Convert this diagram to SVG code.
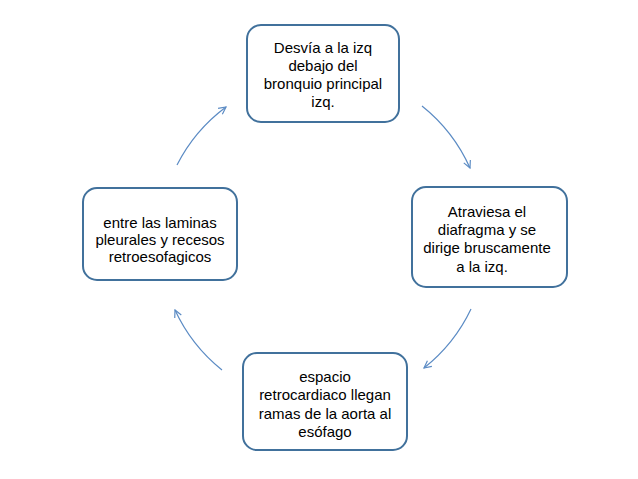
<svg xmlns="http://www.w3.org/2000/svg" width="638" height="479" viewBox="0 0 638 479">
<defs>
<style>
.box{fill:#ffffff;stroke:#41719C;stroke-width:2}
.t{font-family:"Liberation Sans",Arial,sans-serif;font-size:15px;fill:#000;text-anchor:middle}
.c{fill:none;stroke:#5B8BC4;stroke-width:1.2}
</style>
<marker id="ah" viewBox="0 0 10 10" refX="9" refY="5" markerWidth="9" markerHeight="9" orient="auto" markerUnits="userSpaceOnUse">
<path d="M1,1 L9,5 L1,9" fill="none" stroke="#5B8BC4" stroke-width="1.3"/>
</marker>
</defs>
<rect width="638" height="479" fill="#ffffff"/>
<g id="connectors">
<path class="c" d="M422,106 A166,166 0 0 1 470,168" marker-end="url(#ah)"/>
<path class="c" d="M471,309 A166,166 0 0 1 424,368" marker-end="url(#ah)"/>
<path class="c" d="M222,370 A166,166 0 0 1 175,310" marker-end="url(#ah)"/>
<path class="c" d="M177,165 A166,166 0 0 1 226,107" marker-end="url(#ah)"/>
</g>
<g id="node-top">
<rect class="box" x="247" y="25" width="152" height="97" rx="14"/>
<text class="t" x="323" y="53">Desvía a la izq</text>
<text class="t" x="323" y="71">debajo del</text>
<text class="t" x="323" y="89">bronquio principal</text>
<text class="t" x="323" y="107">izq.</text>
</g>
<g id="node-right">
<rect class="box" x="412" y="187" width="155" height="100" rx="14"/>
<text class="t" x="487" y="217">Atraviesa el</text>
<text class="t" x="487" y="235">diafragma y se</text>
<text class="t" x="487" y="253">dirige bruscamente</text>
<text class="t" x="482" y="272">a la izq.</text>
</g>
<g id="node-bottom">
<rect class="box" x="243" y="353" width="164" height="97" rx="14"/>
<text class="t" x="325" y="382">espacio</text>
<text class="t" x="325" y="400">retrocardiaco llegan</text>
<text class="t" x="325" y="419">ramas de la aorta al</text>
<text class="t" x="325" y="437">esófago</text>
</g>
<g id="node-left">
<rect class="box" x="83" y="188" width="154" height="92" rx="14"/>
<text class="t" x="160" y="228">entre las laminas</text>
<text class="t" x="160" y="245">pleurales y recesos</text>
<text class="t" x="160" y="262">retroesofagicos</text>
</g>
</svg>
